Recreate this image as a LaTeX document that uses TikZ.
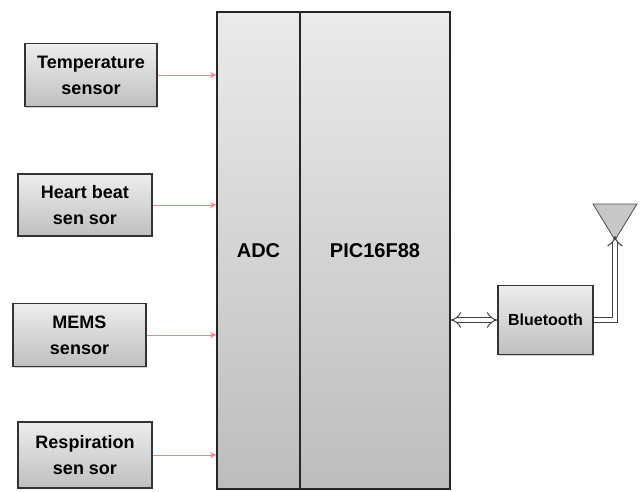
\documentclass[tikz,border=0pt]{standalone}
\usepackage{fontspec}
\setmainfont{Liberation Sans}
\usetikzlibrary{arrows.meta,shadows}
\begin{document}
\begin{tikzpicture}[x=1pt,y=-1pt,
  box/.style={draw=black!80, line width=1.6pt, top color=black!7, bottom color=black!25,
    drop shadow={shadow xshift=1pt, shadow yshift=-1pt, opacity=0.35},
    align=center, inner sep=0pt, font=\bfseries\fontsize{18}{26}\selectfont},
  big/.style={draw=black!85, line width=1.6pt, top color=black!8, bottom color=black!26,
    inner sep=0pt, font=\bfseries\fontsize{20}{24}\selectfont},
  sig/.style={draw=red!50!white, line width=1pt, -{Stealth[length=6pt,width=6pt,open]}},
  dbl/.style={draw=black!75, line width=1pt, double, double distance=4.5pt}
]
\useasboundingbox (0,0) rectangle (641,491);
\node[big, minimum width=83pt, minimum height=477pt] (adc) at (258.5,250.5) {ADC};
\node[big, minimum width=150pt, minimum height=477pt] (pic) at (375,250.5) {PIC16F88};
\node[box, minimum width=132pt, minimum height=63pt] (temp) at (91,75) {Temperature\\sensor};
\node[box, minimum width=134pt, minimum height=62pt] (heart) at (85,205) {Heart beat\\sen sor};
\node[box, minimum width=133pt, minimum height=63pt] (mems) at (79.5,335) {MEMS\\sensor};
\node[box, minimum width=134pt, minimum height=66pt] (resp) at (85,455) {Respiration\\sen sor};
\node[box, minimum width=95pt, minimum height=69pt, font=\bfseries\fontsize{16}{20}\selectfont] (bt) at (545.5,320) {Bluetooth};
\draw[draw=black!70, line width=0.8pt, fill=black!22] (593,204) -- (637,204) -- (615,240) -- cycle;
\coordinate (ant) at (615,236);
\draw[sig] (temp.east) -- (temp.east -| adc.west);
\draw[sig] (heart.east) -- (heart.east -| adc.west);
\draw[sig] (mems.east) -- (mems.east -| adc.west);
\draw[sig] (resp.east) -- (resp.east -| adc.west);
\draw[dbl, {Implies[length=5pt]}-{Implies[length=5pt]}] (bt.west) -- (bt.west -| pic.east);
\draw[dbl, -{Implies[length=5pt]}] (bt.east) -- (bt.east -| ant) -- (ant);
\end{tikzpicture}
\end{document}
